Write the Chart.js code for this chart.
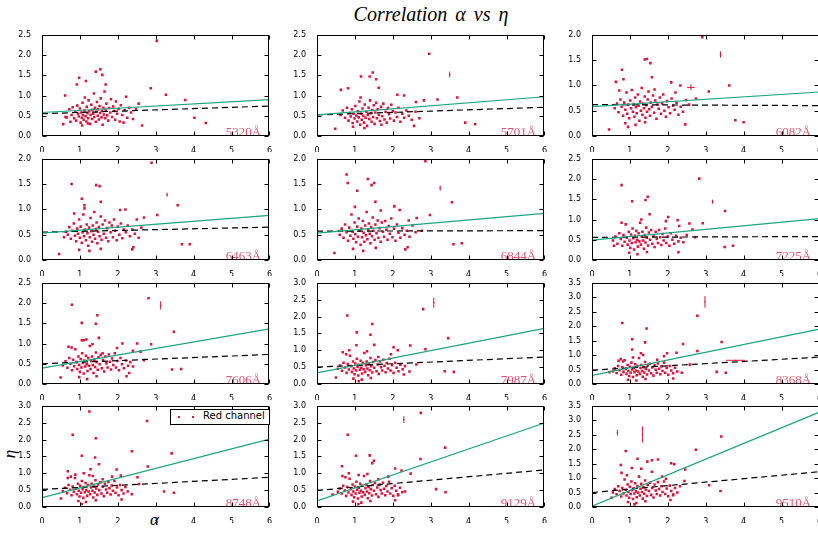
<!DOCTYPE html>
<html>
<head>
<meta charset="utf-8">
<script src="https://cdn.jsdelivr.net/npm/chart.js@4"></script>
<style>
  body { margin: 0; background: #fff; }
  #page { position: relative; width: 818px; height: 533px; overflow: hidden; background: #fff; }
  canvas { position: absolute; }
  .txt { position: absolute; white-space: nowrap; color: #000; }
  #title { left: 431px; top: 3px; transform: translateX(-50%); font: italic 20px "Liberation Serif", serif; word-spacing: 3px; }
  #ylab { left: 6px; top: 444px; font: italic 17px "Liberation Serif", serif; transform: rotate(-90deg); }
  #xlab { left: 150px; top: 510px; font: italic 17px "Liberation Serif", serif; }
  #legend { position: absolute; left: 170px; top: 409px; width: 98px; height: 14px; border: 1px solid #000; background: #fff; }
  #legend .dot { position: absolute; top: 6px; width: 2px; height: 2px; background: #dc143c; }
  #legend span { position: absolute; left: 32px; top: 0px; font: 10px "DejaVu Sans", sans-serif; }
</style>
</head>
<body>
<div id="page">
  <div id="title" class="txt">Correlation α vs η</div>
  <div id="ylab" class="txt">η</div>
  <div id="xlab" class="txt">α</div>
</div>
<script>
var wavelengths = ['5320Å', '5701Å', '6082Å', '6463Å', '6844Å', '7225Å', '7606Å', '7987Å', '8368Å', '8748Å', '9129Å', '9510Å'];
var yMaxes = [2.5, 2.5, 2.0, 2.0, 2.0, 2.5, 2.5, 3.0, 3.5, 3.0, 3.0, 3.5];
// eta of the fits at alpha = 0 and alpha = 6
var greenFit = [[0.58, 0.90], [0.52, 0.97], [0.58, 0.87], [0.53, 0.88], [0.53, 0.92], [0.49, 1.02],
                [0.39, 1.36], [0.33, 1.65], [0.30, 1.90], [0.28, 2.01], [0.18, 2.49], [0.03, 3.28]];
var dashedFit = [[0.55, 0.74], [0.52, 0.71], [0.62, 0.60], [0.55, 0.65], [0.57, 0.58], [0.56, 0.58],
                 [0.50, 0.73], [0.50, 0.80], [0.48, 0.93], [0.52, 0.88], [0.49, 1.10], [0.50, 1.22]];

var points5320 = [[3.03,2.35],[1.54,1.65],[1.42,1.59],[1.59,1.51],[0.98,1.44],[1.16,1.36],[1.68,1.27],[2.87,1.18],[0.92,1.27],[3.27,1.02],[3.78,0.89],[4.02,0.45],[4.32,0.32],[2.64,0.26],[0.56,0.29],[0.62,0.47],[0.61,1.0],
[0.72,0.66],[0.78,0.52],[0.81,0.71],[0.85,0.44],[0.88,0.60],[0.90,0.38],[0.93,0.75],[0.95,0.55],[0.97,0.48],[1.00,0.68],
[1.02,0.33],[1.03,0.58],[1.05,0.45],[1.07,0.82],[1.08,0.52],[1.10,0.40],[1.12,0.63],[1.13,0.95],[1.15,0.49],[1.17,0.36],
[1.18,0.72],[1.20,0.56],[1.22,0.44],[1.23,0.88],[1.25,0.61],[1.27,0.30],[1.28,0.52],[1.30,0.77],[1.32,0.42],[1.33,0.65],
[1.35,0.55],[1.37,1.05],[1.38,0.47],[1.40,0.70],[1.42,0.35],[1.43,0.60],[1.45,0.84],[1.47,0.50],[1.48,0.66],[1.50,0.41],
[1.52,0.74],[1.53,0.57],[1.55,0.93],[1.57,0.46],[1.58,0.62],[1.60,0.28],[1.62,0.70],[1.63,0.53],[1.65,1.10],[1.67,0.44],
[1.68,0.64],[1.70,0.80],[1.72,0.51],[1.75,0.38],[1.77,0.69],[1.80,0.58],[1.82,0.91],[1.85,0.47],[1.88,0.73],[1.90,0.62],
[1.93,0.40],[1.95,0.85],[1.98,0.55],[2.02,0.67],[2.05,0.36],[2.08,0.76],[2.12,0.52],[2.15,0.33],[2.18,0.64],[2.22,0.97],
[2.25,0.45],[2.30,0.70],[2.35,0.58],[2.40,0.42],[2.48,0.66],[2.55,0.80],[0.65,0.46],[0.75,0.35],[1.06,0.26],[1.21,0.31]];
var points5701 = [[2.96,2.03],[1.47,1.57],[1.39,1.47],[1.56,1.40],[1.16,1.47],[1.63,1.19],[0.63,1.14],[0.82,1.18],[3.70,0.95],[3.18,0.90],[2.82,0.88],[3.91,0.33],[4.17,0.29],[2.56,0.25],[0.48,0.18],[2.12,1.02],[2.30,1.00],[2.61,0.84],
[0.62,0.52],[0.68,0.63],[0.74,0.45],[0.79,0.70],[0.83,0.38],[0.86,0.57],[0.89,0.48],[0.92,0.66],[0.94,0.32],[0.97,0.55],
[0.99,0.43],[1.01,0.74],[1.04,0.50],[1.06,0.36],[1.08,0.61],[1.10,0.46],[1.12,0.85],[1.14,0.28],[1.16,0.55],[1.18,0.40],
[1.20,0.68],[1.22,0.50],[1.24,0.33],[1.26,0.78],[1.28,0.45],[1.30,0.60],[1.32,0.25],[1.34,0.52],[1.36,0.70],[1.38,0.42],
[1.40,0.88],[1.42,0.56],[1.44,0.35],[1.46,0.64],[1.48,0.47],[1.50,0.76],[1.52,0.30],[1.54,0.58],[1.56,0.82],[1.58,0.44],
[1.60,0.66],[1.63,0.52],[1.66,0.37],[1.69,0.72],[1.72,0.49],[1.75,0.80],[1.78,0.41],[1.81,0.60],[1.84,0.33],[1.87,0.69],
[1.90,0.54],[1.93,0.43],[1.96,0.77],[2.00,0.62],[2.03,0.38],[2.07,0.58],[2.11,0.47],[2.15,0.70],[2.20,0.35],[2.25,0.55],
[2.30,0.45],[2.36,0.63],[2.42,0.50],[2.50,0.40],[2.60,0.60],[2.70,0.44],[0.95,0.23],[1.25,0.20],[1.70,0.28],[1.15,0.95]];
var points6082 = [[2.91,1.95],[1.39,1.51],[1.45,1.52],[1.54,1.44],[0.79,1.31],[0.83,1.12],[1.58,1.16],[0.63,1.07],[3.62,1.00],[3.08,0.88],[2.33,1.00],[2.09,1.06],[3.78,0.31],[4.00,0.27],[2.46,0.23],[0.45,0.13],[0.95,0.18],[2.74,0.74],
[0.60,0.55],[0.66,0.64],[0.70,0.47],[0.75,0.72],[0.78,0.58],[0.82,0.40],[0.85,0.66],[0.88,0.52],[0.91,0.86],[0.93,0.44],
[0.96,0.62],[0.98,0.35],[1.01,0.70],[1.03,0.55],[1.05,0.91],[1.08,0.48],[1.10,0.63],[1.12,0.38],[1.14,0.76],[1.16,0.57],
[1.18,0.45],[1.21,0.82],[1.23,0.60],[1.25,0.30],[1.27,0.68],[1.29,0.50],[1.31,0.95],[1.33,0.42],[1.35,0.64],[1.37,0.55],
[1.39,0.78],[1.41,0.36],[1.43,0.61],[1.45,0.48],[1.47,0.72],[1.49,0.88],[1.51,0.53],[1.53,0.40],[1.55,0.66],[1.58,0.58],
[1.61,0.80],[1.64,0.46],[1.67,0.70],[1.70,0.34],[1.73,0.62],[1.76,0.54],[1.79,0.76],[1.82,0.44],[1.85,0.65],[1.88,0.82],
[1.91,0.50],[1.95,0.38],[1.98,0.69],[2.02,0.57],[2.06,0.45],[2.10,0.74],[2.14,0.60],[2.18,0.52],[2.23,0.66],[2.28,0.42],
[2.34,0.58],[2.40,0.48],[2.48,0.71],[2.56,0.62],[0.88,0.25],[1.15,0.22],[1.40,0.27],[0.72,0.90],[1.65,0.92],[2.20,0.86]];
var points6463 = [[2.89,1.92],[3.58,1.08],[3.04,0.89],[2.69,0.84],[2.50,0.80],[3.69,0.31],[3.90,0.31],[0.78,1.50],[1.43,1.48],[1.52,1.46],[1.05,1.21],[1.55,1.15],[1.12,1.08],[0.45,0.12],[2.41,0.25],[2.38,0.21],[2.06,0.99],[2.20,1.00],
[0.58,0.45],[0.63,0.56],[0.68,0.50],[0.72,0.65],[0.76,0.42],[0.80,0.58],[0.84,0.72],[0.87,0.48],[0.90,0.37],[0.93,0.62],
[0.95,0.52],[0.98,0.80],[1.00,0.44],[1.02,0.66],[1.05,0.34],[1.07,0.55],[1.09,0.90],[1.11,0.47],[1.13,0.60],[1.16,0.39],
[1.18,0.70],[1.20,0.53],[1.22,0.28],[1.24,0.64],[1.26,0.45],[1.28,0.83],[1.30,0.57],[1.32,0.36],[1.34,0.68],[1.36,0.50],
[1.38,0.95],[1.40,0.42],[1.42,0.61],[1.44,0.74],[1.46,0.33],[1.48,0.56],[1.50,0.65],[1.52,0.47],[1.55,0.86],[1.57,0.40],
[1.60,0.70],[1.63,0.52],[1.66,0.78],[1.69,0.44],[1.72,0.63],[1.75,0.37],[1.78,0.74],[1.81,0.55],[1.84,0.68],[1.87,0.45],
[1.90,0.80],[1.93,0.58],[1.97,0.39],[2.00,0.66],[2.04,0.50],[2.08,0.72],[2.12,0.43],[2.16,0.60],[2.21,0.55],[2.26,0.68],
[2.32,0.47],[2.38,0.60],[2.45,0.52],[2.55,0.44],[2.62,0.64],[0.98,0.20],[1.25,0.18],[1.55,0.22],[1.12,1.02],[0.85,0.92]];
var points6844 = [[2.86,1.95],[0.78,1.69],[1.34,1.60],[1.51,1.52],[0.81,1.52],[1.44,1.48],[1.06,1.37],[1.54,1.15],[3.56,1.14],[2.98,0.89],[2.04,1.06],[2.18,0.99],[2.63,0.83],[2.77,0.58],[3.60,0.31],[3.82,0.33],[0.46,0.14],[2.39,0.25],[2.33,0.21],
[0.60,0.50],[0.65,0.62],[0.70,0.44],[0.74,0.70],[0.78,0.55],[0.82,0.38],[0.85,0.64],[0.88,0.48],[0.91,0.90],[0.94,0.56],
[0.96,0.42],[0.99,0.74],[1.01,0.51],[1.03,0.35],[1.06,0.66],[1.08,0.46],[1.10,0.82],[1.12,0.58],[1.15,0.30],[1.17,0.62],
[1.19,0.45],[1.21,0.77],[1.23,0.54],[1.25,0.36],[1.27,0.68],[1.29,0.49],[1.31,0.95],[1.33,0.41],[1.35,0.60],[1.37,0.72],
[1.39,0.52],[1.41,0.33],[1.43,0.65],[1.45,0.47],[1.47,0.84],[1.49,0.58],[1.52,0.40],[1.54,0.70],[1.57,0.53],[1.60,0.78],
[1.62,0.44],[1.65,0.63],[1.68,0.36],[1.71,0.74],[1.74,0.56],[1.77,0.46],[1.80,0.77],[1.83,0.60],[1.86,0.40],[1.89,0.67],
[1.92,0.52],[1.96,0.82],[1.99,0.45],[2.03,0.62],[2.07,0.38],[2.11,0.70],[2.15,0.54],[2.20,0.44],[2.25,0.63],[2.31,0.50],
[2.37,0.58],[2.44,0.46],[2.52,0.68],[2.60,0.55],[0.95,0.22],[1.22,0.18],[1.55,0.24],[1.00,1.05],[1.68,0.98],[2.42,0.78]];
var points7225 = [[2.83,2.01],[0.78,1.85],[1.47,1.56],[1.41,1.48],[1.06,1.45],[3.51,1.21],[1.52,1.13],[2.92,0.91],[2.57,0.90],[2.26,0.98],[2.01,1.06],[3.50,0.32],[3.72,0.35],[2.28,0.19],[0.58,0.35],[2.65,0.75],[2.72,0.56],
[0.55,0.48],[0.62,0.58],[0.67,0.40],[0.72,0.66],[0.76,0.52],[0.80,0.35],[0.83,0.62],[0.86,0.45],[0.89,0.88],[0.92,0.55],
[0.94,0.38],[0.97,0.70],[0.99,0.48],[1.01,0.30],[1.03,0.63],[1.05,0.42],[1.07,0.78],[1.09,0.54],[1.11,0.26],[1.13,0.60],
[1.15,0.44],[1.17,0.72],[1.19,0.50],[1.21,0.33],[1.23,0.66],[1.25,0.46],[1.27,0.92],[1.29,0.38],[1.31,0.58],[1.33,0.70],
[1.35,0.48],[1.37,0.28],[1.39,0.62],[1.41,0.43],[1.43,0.80],[1.45,0.55],[1.48,0.36],[1.50,0.68],[1.53,0.50],[1.56,0.74],
[1.59,0.40],[1.62,0.60],[1.65,0.32],[1.68,0.70],[1.71,0.52],[1.74,0.42],[1.77,0.74],[1.80,0.56],[1.83,0.37],[1.86,0.64],
[1.89,0.48],[1.93,0.78],[1.96,0.42],[2.00,0.58],[2.04,0.35],[2.08,0.66],[2.12,0.50],[2.17,0.40],[2.22,0.60],[2.28,0.46],
[2.34,0.55],[2.41,0.44],[2.50,0.62],[0.98,0.18],[1.20,0.14],[1.45,0.20],[0.78,0.92],[1.30,1.00],[1.95,0.96],[2.30,0.84]];
var points7606 = [[2.81,2.12],[0.79,1.96],[1.46,1.70],[1.42,1.49],[1.05,1.51],[3.48,1.29],[1.50,1.14],[1.05,1.08],[1.17,1.10],[2.51,1.00],[2.88,0.98],[2.12,1.00],[1.98,0.89],[2.40,0.82],[2.60,0.80],[3.43,0.36],[3.67,0.37],[0.49,0.16],[2.23,0.19],[2.30,0.27],[2.69,0.59],
[0.55,0.46],[0.62,0.56],[0.67,0.40],[0.72,0.64],[0.75,0.50],[0.79,0.34],[0.82,0.60],[0.85,0.44],[0.88,0.86],[0.91,0.54],
[0.93,0.37],[0.96,0.68],[0.98,0.47],[1.00,0.30],[1.02,0.62],[1.04,0.41],[1.06,0.76],[1.08,0.52],[1.10,0.26],[1.12,0.58],
[1.14,0.43],[1.16,0.70],[1.18,0.49],[1.20,0.32],[1.22,0.64],[1.24,0.45],[1.26,0.94],[1.28,0.37],[1.30,0.57],[1.32,0.68],
[1.34,0.47],[1.36,0.27],[1.38,0.60],[1.40,0.42],[1.42,0.78],[1.44,0.54],[1.47,0.35],[1.49,0.66],[1.52,0.49],[1.55,0.72],
[1.58,0.39],[1.61,0.59],[1.64,0.31],[1.67,0.68],[1.70,0.51],[1.73,0.41],[1.76,0.73],[1.79,0.55],[1.82,0.36],[1.85,0.63],
[1.88,0.47],[1.92,0.76],[1.95,0.41],[1.99,0.57],[2.03,0.34],[2.07,0.64],[2.11,0.49],[2.16,0.39],[2.21,0.58],[2.27,0.45],
[2.33,0.54],[2.40,0.43],[0.98,0.17],[1.19,0.12],[1.44,0.19],[0.78,0.90],[1.33,0.98],[1.60,0.76],[0.70,0.92],[1.10,1.08]];
var points7987 = [[2.80,2.22],[0.80,2.03],[1.46,1.78],[1.41,1.46],[1.05,1.53],[3.46,1.36],[1.51,1.16],[1.04,1.15],[2.46,1.14],[2.86,1.03],[2.02,1.09],[2.13,1.00],[2.62,0.58],[3.37,0.38],[3.61,0.36],[0.50,0.19],[2.44,0.37],[2.29,0.28],[1.10,0.08],
[0.55,0.45],[0.61,0.55],[0.66,0.39],[0.70,0.63],[0.74,0.49],[0.78,0.33],[0.81,0.59],[0.84,0.43],[0.87,0.84],[0.90,0.53],
[0.92,0.36],[0.95,0.67],[0.97,0.46],[0.99,0.29],[1.01,0.61],[1.03,0.40],[1.05,0.75],[1.07,0.51],[1.09,0.25],[1.11,0.57],
[1.13,0.42],[1.15,0.69],[1.17,0.48],[1.19,0.31],[1.21,0.63],[1.23,0.44],[1.25,0.92],[1.27,0.36],[1.29,0.56],[1.31,0.67],
[1.33,0.46],[1.35,0.26],[1.37,0.59],[1.39,0.41],[1.41,0.77],[1.43,0.53],[1.46,0.34],[1.48,0.65],[1.51,0.48],[1.54,0.71],
[1.57,0.38],[1.60,0.58],[1.63,0.30],[1.66,0.67],[1.69,0.50],[1.72,0.40],[1.75,0.72],[1.78,0.54],[1.81,0.35],[1.84,0.62],
[1.87,0.46],[1.91,0.75],[1.94,0.40],[1.98,0.56],[2.02,0.33],[2.06,0.63],[2.10,0.48],[2.15,0.38],[2.20,0.57],[2.26,0.44],
[2.32,0.53],[0.96,0.16],[1.18,0.13],[1.42,0.18],[0.77,0.88],[1.32,0.97],[0.68,0.94],[0.85,1.00],[1.62,0.80],[1.95,0.88]];
var points8368 = [[2.78,2.36],[0.80,2.11],[1.44,1.92],[1.06,1.55],[1.40,1.44],[3.42,1.45],[2.40,1.38],[2.78,1.14],[2.23,1.08],[1.98,1.06],[1.29,1.06],[1.06,1.19],[3.29,0.42],[3.53,0.39],[2.14,0.19],[2.37,0.39],[2.58,0.67],[0.46,0.41],
[0.55,0.44],[0.60,0.54],[0.65,0.38],[0.69,0.62],[0.73,0.48],[0.77,0.32],[0.80,0.58],[0.83,0.42],[0.86,0.82],[0.89,0.52],
[0.91,0.35],[0.94,0.66],[0.96,0.45],[0.98,0.28],[1.00,0.60],[1.02,0.39],[1.04,0.74],[1.06,0.50],[1.08,0.24],[1.10,0.56],
[1.12,0.41],[1.14,0.68],[1.16,0.47],[1.18,0.30],[1.20,0.62],[1.22,0.43],[1.24,0.90],[1.26,0.35],[1.28,0.55],[1.30,0.66],
[1.32,0.45],[1.34,0.25],[1.36,0.58],[1.38,0.40],[1.40,0.76],[1.42,0.52],[1.45,0.33],[1.47,0.64],[1.50,0.47],[1.53,0.70],
[1.56,0.37],[1.59,0.57],[1.62,0.29],[1.65,0.66],[1.68,0.49],[1.71,0.39],[1.74,0.71],[1.77,0.53],[1.80,0.34],[1.83,0.61],
[1.86,0.45],[1.90,0.74],[1.93,0.39],[1.97,0.55],[2.01,0.32],[2.05,0.62],[2.09,0.47],[2.14,0.37],[2.19,0.56],[2.25,0.43],
[0.95,0.15],[1.17,0.12],[1.41,0.17],[0.76,0.86],[0.82,0.78],[0.70,0.80],[1.08,0.92],[1.35,1.00],[1.72,0.84],[1.90,0.96]];
var points8748 = [[1.25,2.83],[2.77,2.55],[0.81,2.14],[1.42,2.04],[2.37,1.65],[3.42,1.59],[1.05,1.52],[1.50,1.27],[1.40,1.47],[2.79,1.20],[1.28,1.12],[1.97,1.11],[0.68,1.06],[2.08,0.93],[2.52,0.88],[3.22,0.46],[3.48,0.42],[2.10,0.22],[2.37,0.38],[0.50,0.25],[1.05,0.09],[2.56,0.68],
[0.55,0.47],[0.61,0.57],[0.66,0.41],[0.70,0.65],[0.74,0.51],[0.78,0.35],[0.81,0.61],[0.84,0.45],[0.87,0.86],[0.90,0.55],
[0.92,0.38],[0.95,0.69],[0.97,0.48],[0.99,0.31],[1.01,0.63],[1.03,0.42],[1.05,0.77],[1.07,0.53],[1.09,0.27],[1.11,0.59],
[1.13,0.44],[1.15,0.71],[1.17,0.50],[1.19,0.33],[1.21,0.65],[1.23,0.46],[1.25,0.94],[1.27,0.38],[1.29,0.58],[1.31,0.69],
[1.33,0.48],[1.35,0.28],[1.37,0.61],[1.39,0.43],[1.41,0.79],[1.43,0.55],[1.46,0.36],[1.48,0.67],[1.51,0.50],[1.54,0.73],
[1.57,0.40],[1.60,0.60],[1.63,0.32],[1.66,0.69],[1.69,0.52],[1.72,0.42],[1.75,0.74],[1.78,0.56],[1.81,0.37],[1.84,0.64],
[1.87,0.48],[1.91,0.77],[1.94,0.42],[1.98,0.58],[2.02,0.35],[2.06,0.65],[2.10,0.50],[2.15,0.40],[2.20,0.59],[2.26,0.46],
[0.96,0.18],[1.16,0.15],[1.42,0.20],[0.76,0.90],[0.88,0.96],[0.68,0.86],[1.10,1.00],[1.34,0.92],[1.60,0.82],[1.85,0.90]];
var points9129 = [[2.74,2.79],[0.81,2.14],[3.38,1.76],[2.73,1.42],[1.39,1.53],[1.03,1.52],[1.50,1.37],[1.46,1.30],[0.66,1.21],[2.06,1.14],[2.23,1.08],[2.47,0.99],[3.14,0.53],[3.39,0.44],[2.06,0.20],[2.32,0.46],[2.14,0.35],[0.41,0.37],[1.09,0.08],
[0.55,0.45],[0.60,0.55],[0.65,0.40],[0.69,0.63],[0.73,0.49],[0.77,0.33],[0.80,0.59],[0.83,0.43],[0.86,0.84],[0.89,0.53],
[0.91,0.36],[0.94,0.67],[0.96,0.46],[0.98,0.29],[1.00,0.61],[1.02,0.40],[1.04,0.75],[1.06,0.51],[1.08,0.25],[1.10,0.57],
[1.12,0.42],[1.14,0.69],[1.16,0.48],[1.18,0.31],[1.20,0.63],[1.22,0.44],[1.24,0.92],[1.26,0.36],[1.28,0.56],[1.30,0.67],
[1.32,0.46],[1.34,0.26],[1.36,0.59],[1.38,0.41],[1.40,0.77],[1.42,0.53],[1.45,0.34],[1.47,0.65],[1.50,0.48],[1.53,0.71],
[1.56,0.38],[1.59,0.58],[1.62,0.30],[1.65,0.67],[1.68,0.50],[1.71,0.40],[1.74,0.72],[1.77,0.54],[1.80,0.35],[1.83,0.62],
[1.86,0.46],[1.90,0.75],[1.93,0.40],[1.97,0.56],[2.01,0.33],[2.05,0.63],[2.09,0.48],[2.14,0.38],[2.19,0.57],[2.25,0.44],
[0.95,0.16],[1.17,0.13],[1.41,0.18],[0.75,0.88],[0.67,0.92],[0.84,1.00],[1.10,0.95],[1.33,0.98],[1.62,0.82],[1.88,0.90]];
var points9510 = [[3.41,2.44],[2.74,1.98],[0.89,1.94],[1.20,1.67],[1.74,1.64],[1.58,1.62],[0.76,1.45],[1.46,1.57],[2.09,1.51],[2.17,1.48],[2.46,1.30],[3.09,0.75],[3.39,0.55],[2.44,0.90],[2.07,0.24],[2.14,0.41],[0.52,0.32],[1.12,0.09],[2.32,0.72],
[0.55,0.50],[0.60,0.62],[0.65,0.44],[0.69,0.72],[0.73,0.55],[0.77,0.36],[0.80,0.66],[0.83,0.47],[0.86,0.95],[0.89,0.60],
[0.91,0.40],[0.94,0.78],[0.96,0.52],[0.98,0.32],[1.00,0.70],[1.02,0.45],[1.04,0.88],[1.06,0.58],[1.08,0.28],[1.10,0.65],
[1.12,0.47],[1.14,0.82],[1.16,0.54],[1.18,0.34],[1.20,0.72],[1.22,0.49],[1.24,1.05],[1.26,0.40],[1.28,0.63],[1.30,0.80],
[1.32,0.52],[1.34,0.29],[1.36,0.68],[1.38,0.46],[1.40,0.92],[1.42,0.60],[1.45,0.38],[1.47,0.76],[1.50,0.55],[1.53,0.84],
[1.56,0.42],[1.59,0.66],[1.62,0.33],[1.65,0.78],[1.68,0.57],[1.71,0.45],[1.74,0.86],[1.77,0.62],[1.80,0.40],[1.83,0.72],
[1.86,0.52],[1.90,0.88],[1.93,0.45],[1.97,0.64],[2.01,0.37],[2.05,0.74],[2.09,0.55],[2.14,0.43],[2.19,0.66],[2.25,0.50],
[0.95,0.17],[1.17,0.14],[1.41,0.20],[0.78,1.18],[0.92,1.10],[1.05,1.35],[1.30,1.32],[1.58,1.22],[1.85,1.05],[1.95,0.98]];

// points with error bars: [alpha, eta, alpha error, eta error]
var errors5320 = [];
var errors5701 = [[3.50, 1.52, 0.02, 0.07]];
var errors6082 = [[2.61, 0.96, 0.10, 0.06], [3.39, 1.61, 0.02, 0.06]];
var errors6463 = [[3.30, 1.29, 0.02, 0.04]];
var errors6844 = [[3.25, 1.42, 0.02, 0.05]];
var errors7225 = [[3.18, 1.44, 0.02, 0.05]];
var errors7606 = [[3.13, 1.94, 0.02, 0.10]];
var errors7987 = [[3.08, 2.41, 0.02, 0.15]];
var errors8368 = [[2.98, 2.84, 0.02, 0.20], [3.79, 0.82, 0.25, 0.02]];
var errors8748 = [];
var errors9129 = [[2.29, 2.59, 0.02, 0.10]];
var errors9510 = [[0.67, 2.57, 0.02, 0.10], [1.33, 2.51, 0.02, 0.28]];

var allPoints = [points5320, points5701, points6082, points6463, points6844, points7225,
                 points7606, points7987, points8368, points8748, points9129, points9510];
var allErrors = [errors5320, errors5701, errors6082, errors6463, errors6844, errors7225,
                 errors7606, errors7987, errors8368, errors8748, errors9129, errors9510];

var RED = '#dc143c';
var GREEN = '#1ea57f';
var plotLefts = [42, 317, 592];
var plotTops = [33, 157, 281, 404];
var plotW = 228, plotH = 103;
var padL = 30, padT = 6, padR = 4, padB = 16;

var framePlugin = {
    id: 'frame',
    afterDatasetsDraw(chart, args, opts) {
        const ctx = chart.ctx;
        const a = chart.chartArea;
        const xs = chart.scales.x, ys = chart.scales.y;
        ctx.save();
        // error bars
        ctx.strokeStyle = RED;
        ctx.lineWidth = 1;
        opts.errors.forEach(function(e) {
            const px = xs.getPixelForValue(e[0]), py = ys.getPixelForValue(e[1]);
            ctx.beginPath();
            ctx.moveTo(xs.getPixelForValue(e[0] - e[2]), py);
            ctx.lineTo(xs.getPixelForValue(e[0] + e[2]), py);
            ctx.moveTo(px, ys.getPixelForValue(e[1] - e[3]));
            ctx.lineTo(px, ys.getPixelForValue(e[1] + e[3]));
            ctx.stroke();
        });
        // wavelength label
        ctx.font = '13px "Liberation Serif", serif';
        ctx.fillStyle = 'rgba(220,20,60,0.75)';
        ctx.textBaseline = 'alphabetic';
        ctx.fillText(opts.label, xs.getPixelForValue(4.85), ys.getPixelForValue(0) - 0.5);
        // frame and inward ticks
        ctx.strokeStyle = '#000';
        const l = Math.round(a.left) + 0.5, r = Math.round(a.right) - 0.5;
        const t = Math.round(a.top) + 0.5, b = Math.round(a.bottom) - 0.5;
        ctx.strokeRect(l, t, r - l, b - t);
        ctx.beginPath();
        xs.ticks.forEach(function(tk) {
            const px = Math.round(xs.getPixelForValue(tk.value)) + 0.5;
            ctx.moveTo(px, b); ctx.lineTo(px, b - 4);
            ctx.moveTo(px, t); ctx.lineTo(px, t + 4);
        });
        ys.ticks.forEach(function(tk) {
            const py = Math.round(ys.getPixelForValue(tk.value)) + 0.5;
            ctx.moveTo(l, py); ctx.lineTo(l + 4, py);
            ctx.moveTo(r, py); ctx.lineTo(r - 4, py);
        });
        ctx.stroke();
        ctx.restore();
    }
};

var tickFont = { family: '"DejaVu Sans", sans-serif', size: 8 };

window.addEventListener('load', function()
{
    const page = document.getElementById('page');
    for (let i = 0; i < 12; i++) {
        const row = Math.floor(i / 3), col = i % 3;
        const cv = document.createElement('canvas');
        cv.width = plotW + padL + padR;
        cv.height = plotH + padT + padB;
        cv.style.left = (plotLefts[col] - padL) + 'px';
        cv.style.top = (plotTops[row] - padT) + 'px';
        page.appendChild(cv);

        new Chart(cv, {
            type: 'scatter',
            data: {
                datasets: [
                    {
                        type: 'line',
                        data: [{ x: 0, y: greenFit[i][0] }, { x: 6, y: greenFit[i][1] }],
                        borderColor: GREEN, borderWidth: 1.2, pointRadius: 0, order: 0
                    },
                    {
                        type: 'line',
                        data: [{ x: 0, y: dashedFit[i][0] }, { x: 6, y: dashedFit[i][1] }],
                        borderColor: '#000', borderWidth: 1.2, borderDash: [6, 4], pointRadius: 0, order: 1
                    },
                    {
                        data: allPoints[i].map(p => ({ x: p[0], y: p[1] })),
                        pointStyle: 'rect', pointRadius: 1.8, borderWidth: 0,
                        backgroundColor: RED, order: 2
                    }
                ]
            },
            options: {
                responsive: false,
                animation: false,
                events: [],
                layout: { padding: { left: 0, top: padT, right: padR, bottom: 0 } },
                plugins: {
                    legend: { display: false },
                    tooltip: { enabled: false },
                    frame: { errors: allErrors[i], label: wavelengths[i] }
                },
                scales: {
                    x: {
                        type: 'linear', min: 0, max: 6,
                        grid: { display: false }, border: { display: false },
                        ticks: { stepSize: 1, font: tickFont, color: '#000', padding: 2, maxRotation: 0 },
                        afterFit: function(s) { s.height = padB; }
                    },
                    y: {
                        type: 'linear', min: 0, max: yMaxes[i],
                        grid: { display: false }, border: { display: false },
                        ticks: { stepSize: 0.5, font: tickFont, color: '#000', padding: 3,
                                 callback: v => v.toFixed(1) },
                        afterFit: function(s) { s.width = padL; }
                    }
                }
            },
            plugins: [framePlugin]
        });
    }

    const legend = document.createElement('div');
    legend.id = 'legend';
    legend.innerHTML = '<div class="dot" style="left:7px"></div><div class="dot" style="left:21px"></div><span>Red channel</span>';
    page.appendChild(legend);
});
</script>
</body>
</html>
